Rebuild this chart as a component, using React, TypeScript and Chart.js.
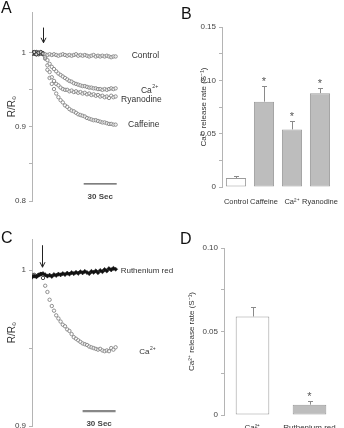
import React, { useEffect, useRef } from "react";
import { Chart, registerables } from "chart.js";

Chart.register(...registerables);

const FONT = "'Liberation Sans', Arial, Helvetica, sans-serif";
const AXIS = "#b4b4b4";
const TICK_TEXT = "#444";
const INK = "#333";
const BAR_GREY = "#bdbdbd";
const BAR_EDGE = "#9c9c9c";

// Sampling times (s) shared by the fluorescence-ratio traces
const TIME_S = [
  0, 2, 4, 6, 8, 10, 12, 14, 16, 18, 20, 22, 24, 26, 28, 30, 32, 34, 36, 38,
  40, 42, 44, 46, 48, 50, 52, 54, 56, 58, 60, 62, 64, 66, 68, 70, 72, 74, 76,
];

// Panel A: R/R0 after addition of each agent (added at ~10 s)
const CONTROL = [
  0.999, 1.001, 0.998, 1.0, 1.001, 0.999, 0.998, 0.997, 0.998, 0.997,
  0.998, 0.997, 0.996, 0.997, 0.998, 0.997, 0.996, 0.997, 0.996, 0.997,
  0.998, 0.996, 0.997, 0.996, 0.997, 0.996, 0.995, 0.996, 0.997, 0.995,
  0.996, 0.995, 0.996, 0.995, 0.996, 0.995, 0.994, 0.995, 0.995,
];
const CA_A = [
  0.999, 1.0, 0.998, 1.0, 0.999, 0.998, 0.995, 0.99, 0.985, 0.981,
  0.978, 0.975, 0.972, 0.97, 0.968, 0.966, 0.964, 0.962, 0.961, 0.959,
  0.958, 0.957, 0.956, 0.955, 0.955, 0.954, 0.953, 0.953, 0.952, 0.952,
  0.951, 0.951, 0.95, 0.951, 0.95, 0.951, 0.952, 0.951, 0.952,
];
const RYANODINE = [
  1.0, 0.999, 1.0, 0.998, 1.0, 0.999, 0.993, 0.983, 0.974, 0.967,
  0.962, 0.958, 0.956, 0.953, 0.951, 0.95, 0.95, 0.948, 0.949, 0.947,
  0.948, 0.946, 0.947, 0.945, 0.946, 0.944, 0.945, 0.943, 0.944, 0.942,
  0.943, 0.941, 0.942, 0.94, 0.941, 0.939, 0.942, 0.94, 0.941,
];
const CAFFEINE = [
  1.0, 0.999, 1.001, 0.999, 1.0, 0.999, 0.992, 0.977, 0.966, 0.958,
  0.951, 0.945, 0.94, 0.936, 0.933, 0.929, 0.927, 0.924, 0.922, 0.921,
  0.919, 0.917, 0.916, 0.915, 0.914, 0.912, 0.911, 0.91, 0.909, 0.909,
  0.908, 0.907, 0.906, 0.906, 0.905, 0.904, 0.904, 0.903, 0.903,
];

// Panel C: Ca2+-induced release with and without ruthenium red
const RUTHENIUM = [
  0.9955, 0.9962, 0.9958, 0.9968, 0.9975, 0.9978, 0.997, 0.9962, 0.9968, 0.996,
  0.9972, 0.9966, 0.9975, 0.997, 0.9978, 0.9972, 0.9981, 0.9975, 0.9984, 0.9978,
  0.9986, 0.998, 0.999, 0.9983, 0.9992, 0.9985, 0.9978, 0.9992, 0.9986, 0.9995,
  0.9984, 0.9998, 0.999, 1.0004, 0.9995, 1.001, 1.0002, 1.0012, 1.0006,
];
const CA_C = [
  0.9965, 0.997, 0.996, 0.997, 0.9975, 0.995, 0.99, 0.986, 0.981, 0.977,
  0.974, 0.971, 0.969, 0.967, 0.965, 0.964, 0.962, 0.961, 0.959, 0.957,
  0.956, 0.955, 0.954, 0.953, 0.9525, 0.952, 0.951, 0.9505, 0.95, 0.9495,
  0.949, 0.9495, 0.9485, 0.948, 0.9485, 0.948, 0.95, 0.949, 0.9505,
];

const STIMULUS_S = 10;
const SCALE_BAR_S = 30;

// Panel B: release rates (mean, SEM)
const B_LABELS = ["Control", "Caffeine", "Ca²⁺", "Ryanodine"];
const B_MEANS = [0.0084, 0.08, 0.054, 0.088];
const B_SEM = [0.0019, 0.0143, 0.008, 0.005];
const B_SIG = [false, true, true, true];

// Panel D: release rates (mean, SEM)
const D_LABELS = ["Ca²⁺", "Ruthenium red"];
const D_MEANS = [0.059, 0.0062];
const D_SEM = [0.0055, 0.002];
const D_SIG = [false, true];

const RATE_TITLE = "Ca²⁺ release rate (S⁻¹)";

function tracePoints(values: number[]) {
  return TIME_S.map((t, i) => ({ x: t, y: values[i] }));
}

function openTrace(label: string, values: number[]) {
  return {
    label,
    data: tracePoints(values),
    showLine: false,
    pointRadius: 1.7,
    pointBorderWidth: 0.9,
    pointBackgroundColor: "rgba(255,255,255,0.6)",
    pointBorderColor: (c: any) => (c.raw && c.raw.x <= STIMULUS_S ? "#333" : "#858585"),
  };
}

function ratioAxis(min: number, max: number, width: number, topTick: number) {
  return {
    min,
    max,
    afterFit: (s: any) => {
      s.width = width;
    },
    border: { display: true, color: AXIS, width: 1 },
    grid: {
      drawOnChartArea: false,
      drawTicks: true,
      tickLength: 3,
      color: (c: any) => (c.tick && c.tick.value > topTick + 1e-6 ? "rgba(0,0,0,0)" : AXIS),
    },
    ticks: {
      stepSize: 0.05,
      includeBounds: false,
      autoSkip: false,
      padding: 3,
      color: TICK_TEXT,
      font: { family: FONT, size: 8 },
      callback: (v: number) => {
        const tenth = v * 10;
        if (Math.abs(tenth - Math.round(tenth)) > 1e-6) return "";
        return Math.abs(v - 1) < 1e-6 ? "1" : v.toFixed(1);
      },
    },
    title: {
      display: true,
      text: "R/R₀",
      color: INK,
      font: { family: FONT, size: 10 },
      padding: { top: 6, bottom: 0 },
    },
  };
}

function rateAxis(max: number, width: number, titlePad: number) {
  return {
    min: 0,
    max,
    afterFit: (s: any) => {
      s.width = width;
    },
    border: { display: true, color: AXIS, width: 1 },
    grid: { drawOnChartArea: false, drawTicks: true, tickLength: 3, color: AXIS },
    ticks: {
      stepSize: 0.025,
      includeBounds: false,
      autoSkip: false,
      padding: 3,
      color: TICK_TEXT,
      font: { family: FONT, size: 8 },
      callback: (v: number) => {
        const k = v * 20;
        if (Math.abs(k - Math.round(k)) > 1e-6) return "";
        return Math.round(k) === 0 ? "0" : (Math.round(k) / 20).toFixed(2);
      },
    },
    title: {
      display: true,
      text: RATE_TITLE,
      color: INK,
      font: { family: FONT, size: 8 },
      padding: { top: titlePad, bottom: 0 },
    },
  };
}

function drawArrow(ctx: CanvasRenderingContext2D, x: number, y0: number, y1: number) {
  const px = Math.round(x) + 0.5;
  ctx.strokeStyle = "#222";
  ctx.lineWidth = 1;
  ctx.beginPath();
  ctx.moveTo(px, y0);
  ctx.lineTo(px, y1);
  ctx.moveTo(px - 2.5, y1 - 5);
  ctx.lineTo(px, y1);
  ctx.lineTo(px + 2.5, y1 - 5);
  ctx.stroke();
}

function drawScaleBar(
  ctx: CanvasRenderingContext2D,
  x0: number,
  x1: number,
  y: number,
  textY: number,
  color: string,
  width: number
) {
  ctx.strokeStyle = color;
  ctx.lineWidth = width;
  ctx.beginPath();
  ctx.moveTo(x0, y);
  ctx.lineTo(x1, y);
  ctx.stroke();
  ctx.fillStyle = "#444";
  ctx.font = `bold 8px ${FONT}`;
  ctx.textAlign = "center";
  ctx.textBaseline = "middle";
  ctx.fillText(`${SCALE_BAR_S} Sec`, (x0 + x1) / 2, textY);
}

function drawLabel(
  ctx: CanvasRenderingContext2D,
  text: string,
  sup: string,
  x: number,
  y: number,
  size: number
) {
  ctx.fillStyle = INK;
  ctx.textAlign = "left";
  ctx.textBaseline = "middle";
  ctx.font = `${size}px ${FONT}`;
  ctx.fillText(text, x, y);
  if (sup) {
    const w = ctx.measureText(text).width;
    ctx.font = `${size * 0.62}px ${FONT}`;
    ctx.fillText(sup, x + w + 0.5, y - size * 0.42);
  }
}

const annotateA = {
  id: "annotateA",
  afterDraw(chart: any) {
    const { ctx } = chart;
    const x = chart.scales.x;
    const y = chart.scales.y;
    ctx.save();
    drawArrow(ctx, x.getPixelForValue(STIMULUS_S), y.getPixelForValue(1.034), y.getPixelForValue(1.0135));
    drawScaleBar(
      ctx,
      x.getPixelForValue(47),
      x.getPixelForValue(47 + SCALE_BAR_S),
      y.getPixelForValue(0.823),
      y.getPixelForValue(0.8054),
      "#555",
      1.2
    );
    drawLabel(ctx, "Control", "", x.getPixelForValue(90.6), y.getPixelForValue(0.996), 8.5);
    drawLabel(ctx, "Ca", "2+", x.getPixelForValue(99), y.getPixelForValue(0.9495), 8.5);
    drawLabel(ctx, "Ryanodine", "", x.getPixelForValue(81), y.getPixelForValue(0.9365), 8.5);
    drawLabel(ctx, "Caffeine", "", x.getPixelForValue(87.3), y.getPixelForValue(0.9027), 8.5);
    ctx.restore();
  },
};

const annotateC = {
  id: "annotateC",
  afterDraw(chart: any) {
    const { ctx } = chart;
    const x = chart.scales.x;
    const y = chart.scales.y;
    ctx.save();
    drawArrow(ctx, x.getPixelForValue(9.1), y.getPixelForValue(1.016), y.getPixelForValue(1.0019));
    drawScaleBar(
      ctx,
      x.getPixelForValue(46),
      x.getPixelForValue(46 + SCALE_BAR_S),
      y.getPixelForValue(0.9096),
      y.getPixelForValue(0.9016),
      "#888",
      2.2
    );
    drawLabel(ctx, "Ruthenium red", "", x.getPixelForValue(80.6), y.getPixelForValue(0.9996), 8);
    drawLabel(ctx, "Ca", "2+", x.getPixelForValue(97.5), y.getPixelForValue(0.9474), 8);
    ctx.restore();
  },
};

function errorBars(means: number[], sems: number[], stars: boolean[]) {
  return {
    id: "errorBars",
    afterDatasetsDraw(chart: any) {
      const { ctx } = chart;
      const y = chart.scales.y;
      const bars = chart.getDatasetMeta(0).data;
      ctx.save();
      bars.forEach((bar: any, i: number) => {
        const cx = Math.round(bar.x) + 0.5;
        const y0 = y.getPixelForValue(means[i]);
        const y1 = Math.round(y.getPixelForValue(means[i] + sems[i])) + 0.5;
        ctx.strokeStyle = "#8a8a8a";
        ctx.lineWidth = 1;
        ctx.beginPath();
        ctx.moveTo(cx, y0);
        ctx.lineTo(cx, y1);
        ctx.moveTo(cx - 2.5, y1);
        ctx.lineTo(cx + 2.5, y1);
        ctx.stroke();
        if (stars[i]) {
          ctx.fillStyle = "#555";
          ctx.font = `11px ${FONT}`;
          ctx.textAlign = "center";
          ctx.textBaseline = "middle";
          ctx.fillText("*", bar.x, y1 - 5);
        }
      });
      ctx.restore();
    },
  };
}

const baseOptions = {
  responsive: false,
  animation: false,
  events: [],
  plugins: { legend: { display: false }, tooltip: { enabled: false } },
};

function buildA(canvas: HTMLCanvasElement) {
  return new Chart(canvas, {
    type: "scatter",
    data: {
      datasets: [
        openTrace("Control", CONTROL),
        openTrace("Ca2+", CA_A),
        openTrace("Ryanodine", RYANODINE),
        openTrace("Caffeine", CAFFEINE),
      ],
    },
    options: {
      ...baseOptions,
      layout: { padding: { left: 0, top: 12, right: 52, bottom: 13 } },
      scales: {
        x: { type: "linear", min: 0, max: 80, display: false },
        y: ratioAxis(0.8, 1.055, 32, 1.0),
      },
    } as any,
    plugins: [annotateA],
  });
}

function buildC(canvas: HTMLCanvasElement) {
  return new Chart(canvas, {
    type: "scatter",
    data: {
      datasets: [
        {
          label: "Ruthenium red",
          data: tracePoints(RUTHENIUM),
          showLine: false,
          pointStyle: "rectRot",
          pointRadius: 2.1,
          pointBorderWidth: 0.5,
          pointBackgroundColor: "#111",
          pointBorderColor: "#111",
        },
        openTrace("Ca2+", CA_C),
      ],
    },
    options: {
      ...baseOptions,
      layout: { padding: { left: 0, top: 25, right: 60, bottom: 18 } },
      scales: {
        x: { type: "linear", min: 0, max: 80, display: false },
        y: ratioAxis(0.9, 1.02, 32, 1.0),
      },
    } as any,
    plugins: [annotateC],
  });
}

function buildB(canvas: HTMLCanvasElement) {
  return new Chart(canvas, {
    type: "bar",
    data: {
      labels: B_LABELS,
      datasets: [
        {
          data: B_MEANS,
          backgroundColor: B_LABELS.map((_, i) => (i === 0 ? "#ffffff" : BAR_GREY)),
          borderColor: BAR_EDGE,
          borderWidth: 1,
          borderSkipped: false,
          barPercentage: 0.72,
          categoryPercentage: 1,
        },
      ],
    },
    options: {
      ...baseOptions,
      layout: { padding: { left: 0, top: 27, right: 38, bottom: 0 } },
      scales: {
        x: {
          grid: { display: false, drawTicks: false },
          border: { display: false },
          afterFit: (s: any) => {
            s.height = 27;
          },
          ticks: {
            autoSkip: false,
            maxRotation: 0,
            minRotation: 0,
            padding: 10,
            color: INK,
            font: { family: FONT, size: 7.5 },
          },
        },
        y: rateAxis(0.15, 50, 27),
      },
    } as any,
    plugins: [errorBars(B_MEANS, B_SEM, B_SIG)],
  });
}

function buildD(canvas: HTMLCanvasElement) {
  return new Chart(canvas, {
    type: "bar",
    data: {
      labels: D_LABELS,
      datasets: [
        {
          data: D_MEANS,
          backgroundColor: D_LABELS.map((_, i) => (i === 0 ? "#ffffff" : BAR_GREY)),
          borderColor: BAR_EDGE,
          borderWidth: 1,
          borderSkipped: false,
          barPercentage: 0.59,
          categoryPercentage: 1,
        },
      ],
    },
    options: {
      ...baseOptions,
      layout: { padding: { left: 0, top: 34, right: 34, bottom: 0 } },
      scales: {
        x: {
          grid: { display: false, drawTicks: false },
          border: { display: false },
          afterFit: (s: any) => {
            s.height = 29;
          },
          ticks: {
            autoSkip: false,
            maxRotation: 0,
            minRotation: 0,
            padding: 8,
            color: INK,
            font: { family: FONT, size: 8 },
          },
        },
        y: rateAxis(0.1, 52, 15),
      },
    } as any,
    plugins: [errorBars(D_MEANS, D_SEM, D_SIG)],
  });
}

type Box = { left: number; top: number; width: number; height: number };

function ChartBox({ box, build }: { box: Box; build: (c: HTMLCanvasElement) => Chart }) {
  const ref = useRef<HTMLCanvasElement>(null);
  useEffect(() => {
    const chart = build(ref.current as HTMLCanvasElement);
    return () => chart.destroy();
  }, [build]);
  return (
    <canvas
      ref={ref}
      width={box.width}
      height={box.height}
      style={{ position: "absolute", left: box.left, top: box.top, width: box.width, height: box.height }}
    />
  );
}

function PanelLetter({ text, left, top }: { text: string; left: number; top: number }) {
  return (
    <div
      style={{
        position: "absolute",
        left,
        top,
        fontFamily: FONT,
        fontSize: 16,
        lineHeight: "16px",
        color: "#111",
      }}
    >
      {text}
    </div>
  );
}

export default function App() {
  return (
    <div
      style={{
        position: "fixed",
        left: 0,
        top: 0,
        width: 344,
        height: 428,
        overflow: "hidden",
        background: "#ffffff",
      }}
    >
      <ChartBox box={{ left: 0, top: 0, width: 172, height: 214 }} build={buildA} />
      <ChartBox box={{ left: 172, top: 0, width: 200, height: 214 }} build={buildB} />
      <ChartBox box={{ left: 172, top: 214, width: 200, height: 230 }} build={buildD} />
      <ChartBox box={{ left: 0, top: 214, width: 180, height: 230 }} build={buildC} />
      <PanelLetter text="A" left={1} top={0} />
      <PanelLetter text="B" left={181} top={6} />
      <PanelLetter text="C" left={1} top={230} />
      <PanelLetter text="D" left={180} top={231} />
    </div>
  );
}
